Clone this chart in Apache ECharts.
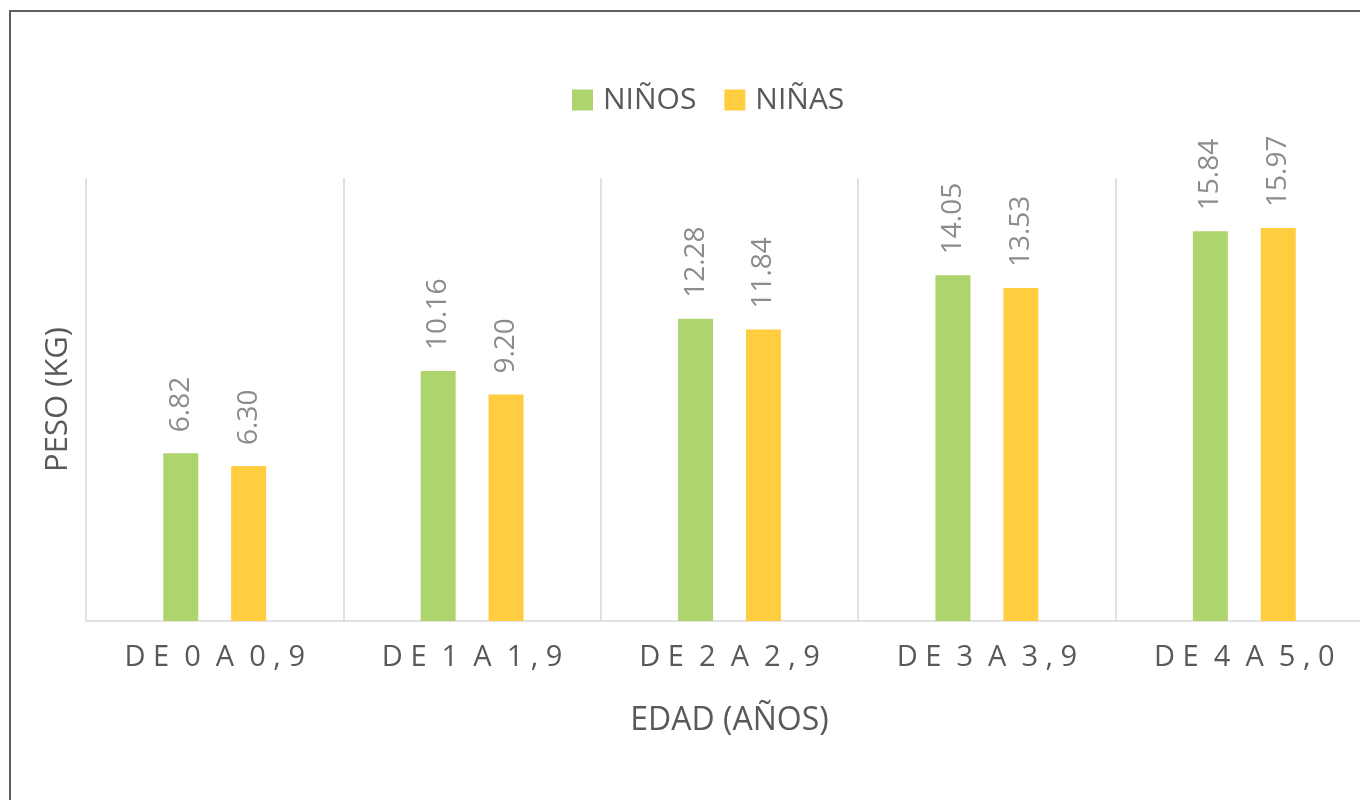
<!DOCTYPE html>
<html>
<head>
<meta charset="utf-8">
<script src="https://cdn.jsdelivr.net/npm/echarts@6/dist/echarts.min.js"></script>
<style>
  html, body { margin: 0; padding: 0; background: #fff; }
  #chart { width: 1360px; height: 800px; }
</style>
</head>
<body>
<div id="chart"></div>
<script>
// edad por grupo
const categories = ['DE 0 A 0,9', 'DE 1 A 1,9', 'DE 2 A 2,9', 'DE 3 A 3,9', 'DE 4 A 5,0']
const ninos = [6.82, 10.16, 12.28, 14.05, 15.84]
const ninas = [6.30, 9.20, 11.84, 13.53, 15.97]

const font = 'Open Sans'
const textGray = '#595959'

// separa las letras como en el original
function spaced(str) {
  return str.split(' ').map(w => w.split('').join(' ')).join('  ')
}

const chart = echarts.init(document.getElementById('chart'))

const labelOpt = {
  show: true,
  position: 'top',
  rotate: 90,
  align: 'left',
  verticalAlign: 'middle',
  distance: 21,
  color: '#8c8c8c',
  fontFamily: font,
  fontSize: 28,
  formatter: p => p.value.toFixed(2)
}

chart.setOption({
  animation: false,
  textStyle: { fontFamily: font },
  graphic: [
    {
      type: 'rect',
      shape: { x: 10, y: 11, width: 1500, height: 1000 },
      style: { fill: 'none', stroke: '#5f5f5f', lineWidth: 2 }
    }
  ],
  legend: {
    left: 572,
    top: 85,
    padding: 0,
    itemWidth: 21,
    itemHeight: 21,
    itemGap: 28,
    icon: 'rect',
    textStyle: { color: textGray, fontSize: 30, fontFamily: font, padding: [0, 0, 0, 5] },
    data: ['NIÑOS', 'NIÑAS']
  },
  grid: { left: 86, width: 1287, top: 178, bottom: 179, outerBoundsMode: 'none' },
  xAxis: {
    type: 'category',
    data: categories,
    name: 'EDAD (AÑOS)',
    nameLocation: 'middle',
    nameGap: 84,
    nameTextStyle: { color: textGray, fontSize: 32, fontFamily: font },
    axisLine: { lineStyle: { color: '#d9d9d9', width: 1.5 } },
    axisTick: { show: false },
    splitLine: { show: true, lineStyle: { color: '#d9d9d9', width: 1.5 } },
    axisLabel: {
      color: textGray,
      fontSize: 29,
      fontFamily: font,
      margin: 22,
      formatter: v => spaced(v)
    }
  },
  yAxis: {
    type: 'value',
    min: 0,
    max: 18,
    name: 'PESO (KG)',
    nameLocation: 'middle',
    nameGap: 12,
    nameTextStyle: { color: textGray, fontSize: 31, fontFamily: font },
    axisLine: { show: false },
    axisTick: { show: false },
    axisLabel: { show: false },
    splitLine: { show: false }
  },
  series: [
    {
      name: 'NIÑOS',
      type: 'bar',
      data: ninos,
      barWidth: 35,
      barGap: '94%',
      itemStyle: { color: '#aed46e' },
      label: labelOpt
    },
    {
      name: 'NIÑAS',
      type: 'bar',
      data: ninas,
      barWidth: 35,
      itemStyle: { color: '#ffcd3f' },
      label: labelOpt
    }
  ]
})
</script>
</body>
</html>
